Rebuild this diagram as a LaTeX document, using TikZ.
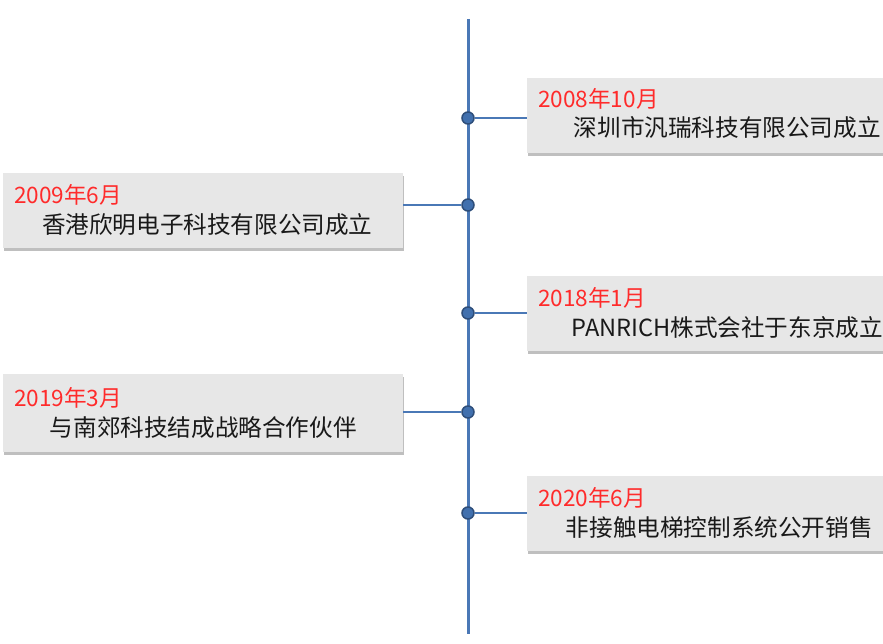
\documentclass[tikz,border=0pt]{standalone}
\usepackage{fontspec}
\setmainfont{Noto Sans CJK SC}
\usetikzlibrary{positioning, shadows}

\definecolor{lineblue}{HTML}{4A78B6}
\definecolor{dotblue}{HTML}{4170AE}
\definecolor{boxgray}{HTML}{E7E7E7}
\definecolor{datered}{HTML}{FF2B2B}

\tikzset{
    evbox/.style={fill=boxgray, minimum width=400pt, minimum height=75pt,
        anchor=north west, inner sep=0pt,
        drop shadow={shadow xshift=1pt, shadow yshift=-2.5pt, opacity=0.25, fill=black}},
    datetext/.style={text=datered, anchor=west, inner sep=0pt,
        font=\fontsize{22.6pt}{26pt}\selectfont},
    maintext/.style={text=black!90, inner sep=0pt, font=\fontsize{23.6pt}{28pt}\selectfont},
    tdot/.style={circle, fill=dotblue, draw=dotblue!70!black, line width=1.5pt,
        minimum size=12pt, inner sep=0pt},
    conn/.style={draw=lineblue, line width=1.5pt}
}

\begin{document}
\begin{tikzpicture}[x=1pt, y=-1pt]
    \useasboundingbox (0,0) rectangle (883,644);
    \clip (0,0) rectangle (883,644);
    % time axis
    \draw[lineblue, line width=3pt] (468,19) -- (468,634);
    \node[tdot] (d1) at (468,118) {};
    \node[tdot] (d2) at (468,205) {};
    \node[tdot] (d3) at (468,313) {};
    \node[tdot] (d4) at (468,412) {};
    \node[tdot] (d5) at (468,513) {};
    % events
    \node[evbox] (b1) at (527,78) {};
    \node[datetext] (t1) at ([xshift=11pt, yshift=-21pt]b1.north west) {2008年10月};
    \node[maintext] (m1) at ([yshift=-12pt]b1.center) {深圳市汎瑞科技有限公司成立};
    \node[evbox] (b2) at (3,173) {};
    \node[datetext] (t2) at ([xshift=11pt, yshift=-22pt]b2.north west) {2009年6月};
    \node[maintext] (m2) at ([xshift=4pt, yshift=-14pt]b2.center) {香港欣明电子科技有限公司成立};
    \node[evbox] (b3) at (527,276) {};
    \node[datetext] (t3) at ([xshift=11pt, yshift=-22pt]b3.north west) {2018年1月};
    \node[maintext] (m3) at ([yshift=-14pt]b3.center) {PANRICH株式会社于东京成立};
    \node[evbox, minimum height=78pt] (b4) at (3,374) {};
    \node[datetext] (t4) at ([xshift=11pt, yshift=-24pt]b4.north west) {2019年3月};
    \node[maintext] (m4) at ([yshift=-14pt]b4.center) {与南郊科技结成战略合作伙伴};
    \node[evbox] (b5) at (527,476) {};
    \node[datetext] (t5) at ([xshift=11pt, yshift=-22pt]b5.north west) {2020年6月};
    \node[maintext] (m5) at ([xshift=-8pt, yshift=-14pt]b5.center) {非接触电梯控制系统公开销售};
    % connectors
    \draw[conn] (d1) -- (d1 -| b1.west);
    \draw[conn] (d2) -- (d2 -| b2.east);
    \draw[conn] (d3) -- (d3 -| b3.west);
    \draw[conn] (d4) -- (d4 -| b4.east);
    \draw[conn] (d5) -- (d5 -| b5.west);
\end{tikzpicture}
\end{document}
